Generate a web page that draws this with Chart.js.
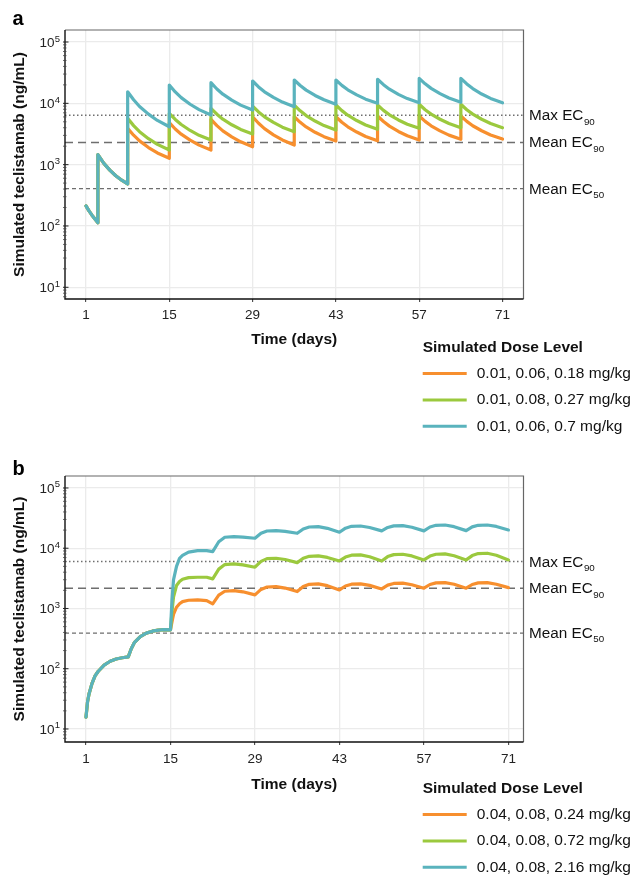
<!DOCTYPE html>
<html>
<head>
<meta charset="utf-8">
<title>Simulated teclistamab exposure</title>
<script src="https://cdn.jsdelivr.net/npm/chart.js@4.4.1/dist/chart.umd.min.js"></script>
<style>
  html, body { margin: 0; padding: 0; background: #fff; }
  body { width: 633px; height: 877px; position: relative; overflow: hidden; }
  canvas { position: absolute; left: 0; }
</style>
</head>
<body>
<canvas id="panelA" width="633" height="440" style="top:0"></canvas>
<canvas id="panelB" width="633" height="437" style="top:440px"></canvas>
<script>
// ---- data ----
const xTicks = [1, 15, 29, 43, 57, 71];
const yTicks = [10, 100, 1000, 10000, 100000];

const refNames = ['Max EC', 'Mean EC', 'Mean EC'];
const refSubs = ['90', '90', '50'];
const refA = [6400, 2300, 406];
const refB = [6000, 2170, 389];

const legendTitle = 'Simulated Dose Level';
const labelsA = ['0.01, 0.06, 0.18 mg/kg', '0.01, 0.08, 0.27 mg/kg', '0.01, 0.06, 0.7 mg/kg'];
const labelsB = ['0.04, 0.08, 0.24 mg/kg', '0.04, 0.08, 0.72 mg/kg', '0.04, 0.08, 2.16 mg/kg'];

// panel a: step-up doses on day 1 and 3, then weekly from day 8
const daysA = [1, 1.5, 2, 2.5, 3, 3, 4, 5, 6, 7, 8,
  8, 9, 10, 11.5, 13, 15,
  15, 16, 17, 18.5, 20, 22,
  22, 23, 24, 25.5, 27, 29,
  29, 30, 31, 32.5, 34, 36,
  36, 37, 38, 39.5, 41, 43,
  43, 44, 45, 46.5, 48, 50,
  50, 51, 52, 53.5, 55, 57,
  57, 58, 59, 60.5, 62, 64,
  64, 65, 66, 67.5, 69, 71];
const orangeA = [213, 176, 150, 130, 113, 1456, 1047, 813, 659, 558, 484,
  3910, 3020, 2440, 1900, 1550, 1270,
  4830, 3810, 3140, 2510, 2080, 1730,
  5480, 4330, 3560, 2840, 2360, 1960,
  6040, 4730, 3860, 3060, 2530, 2090,
  6040, 4900, 4120, 3370, 2860, 2430,
  6040, 4910, 4140, 3400, 2880, 2450,
  6210, 5050, 4250, 3480, 2960, 2520,
  6210, 5080, 4300, 3550, 3030, 2590,
  6210, 5080, 4310, 3570, 3050, 2610];
const greenA = [213, 176, 150, 130, 113, 1456, 1047, 813, 659, 558, 484,
  5690, 4330, 3450, 2650, 2140, 1730,
  6870, 5460, 4510, 3610, 3010, 2520,
  8280, 6640, 5520, 4470, 3750, 3160,
  9040, 7240, 6030, 4880, 4090, 3440,
  9380, 7550, 6320, 5140, 4340, 3660,
  9380, 7600, 6400, 5240, 4440, 3770,
  9380, 7670, 6490, 5360, 4570, 3910,
  9640, 7870, 6670, 5500, 4690, 4000,
  9640, 7870, 6670, 5500, 4690, 4000];
const blueA = [213, 176, 150, 130, 113, 1456, 1047, 813, 659, 558, 484,
  15450, 11430, 8890, 6670, 5260, 4150,
  19910, 15350, 12390, 9660, 7890, 6440,
  21680, 17140, 14090, 11250, 9350, 7780,
  23120, 18530, 15420, 12470, 10470, 8810,
  23990, 19500, 16410, 13430, 11430, 9700,
  23990, 19630, 16600, 13710, 11700, 10000,
  24660, 20140, 17020, 14000, 11940, 10190,
  25590, 20800, 17540, 14390, 12220, 10400,
  25590, 20700, 17380, 14190, 12020, 10190];

// panel b: doses on day 1, 8, then weekly from day 15
const daysB = [1, 1.25, 1.5, 2, 2.5, 3, 4, 5, 6, 7, 8, 8.5, 9, 10, 11, 12, 13, 14, 15,
  15.25, 15.5, 16, 16.5, 17, 18, 19.5, 21, 22,
  23, 24, 25.5, 27, 29,
  30, 31, 32.5, 34, 36,
  37, 38, 39.5, 41, 43,
  44, 45, 46.5, 48, 50,
  51, 52, 53.5, 55, 57,
  58, 59, 60.5, 62, 64,
  65, 66, 67.5, 69, 71];
const orangeB = [15.7, 28, 38, 57, 76, 90, 115, 133, 145, 152, 157, 215, 270, 342, 390, 420, 438, 445, 443,
  600, 800, 1050, 1200, 1300, 1370, 1390, 1350, 1190,
  1660, 1930, 1980, 1890, 1680,
  2070, 2270, 2310, 2180, 1910,
  2310, 2520, 2560, 2390, 2030,
  2360, 2530, 2560, 2420, 2110,
  2440, 2600, 2630, 2480, 2170,
  2500, 2660, 2690, 2520, 2170,
  2500, 2660, 2690, 2520, 2220];
const greenB = [15.7, 28, 38, 57, 76, 90, 115, 133, 145, 152, 157, 215, 270, 342, 390, 420, 438, 445, 443,
  880, 1550, 2400, 2800, 3050, 3250, 3300, 3300, 3100,
  4500, 5350, 5500, 5290, 4840,
  6050, 6710, 6820, 6490, 5770,
  6810, 7350, 7450, 7030, 6150,
  7140, 7660, 7740, 7230, 6150,
  7260, 7830, 7950, 7450, 6400,
  7410, 7940, 8040, 7500, 6400,
  7550, 8150, 8260, 7660, 6400];
const blueB = [15.7, 28, 38, 57, 76, 90, 115, 133, 145, 152, 157, 215, 270, 342, 390, 420, 438, 445, 443,
  1390, 2980, 5000, 6800, 7600, 8600, 9100, 9100, 8800,
  12800, 15200, 15600, 15300, 14650,
  17700, 19300, 19600, 19000, 17700,
  20900, 22500, 22800, 21400, 18400,
  21500, 23100, 23400, 22100, 19400,
  22100, 23500, 23700, 22300, 19400,
  22500, 24000, 24300, 22800, 19600,
  22600, 24000, 24300, 23000, 20100];

// ---- styling ----
const FONT = '"Liberation Sans", Arial, Helvetica, sans-serif';
Chart.defaults.font.family = FONT;
const COLORS = ['#f78f2e', '#9bc93e', '#5ab3bd'];
const refDash = [[1.5, 2.5], [8, 5], [4, 3]];
const refWidth = [1.5, 1.6, 1.3];

function series(days, vals) {
  return days.map((d, i) => ({ x: d, y: vals[i] }));
}

function makeDatasets(labels, days, cols) {
  return cols.map((vals, i) => ({
    label: labels[i],
    data: series(days, vals),
    borderColor: COLORS[i],
    backgroundColor: COLORS[i],
    borderWidth: 3.2,
    pointRadius: 0,
    tension: 0,
    fill: false,
    borderJoinStyle: 'round',
    borderCapStyle: 'round',
    order: 2 - i   // highest dose drawn last
  }));
}

const panelDecor = {
  id: 'panelDecor',
  beforeDatasetsDraw(chart, args, opts) {
    const { ctx, chartArea: a } = chart;
    const ys = chart.scales.y;
    ctx.save();
    ctx.beginPath();
    ctx.rect(a.left, a.top, a.right - a.left, a.bottom - a.top);
    ctx.clip();
    opts.refs.forEach((v, i) => {
      const py = ys.getPixelForValue(v);
      ctx.strokeStyle = '#6e6e6e';
      ctx.lineWidth = refWidth[i];
      ctx.setLineDash(refDash[i]);
      ctx.beginPath();
      ctx.moveTo(a.left, py);
      ctx.lineTo(a.right, py);
      ctx.stroke();
    });
    ctx.restore();
  },
  afterDraw(chart, args, opts) {
    const { ctx, chartArea: a } = chart;
    const ys = chart.scales.y;
    ctx.save();
    ctx.setLineDash([]);

    // panel frame: dark left/bottom axes, lighter top/right
    ctx.strokeStyle = '#666';
    ctx.lineWidth = 1.2;
    ctx.beginPath();
    ctx.moveTo(a.left, a.top); ctx.lineTo(a.right, a.top); ctx.lineTo(a.right, a.bottom);
    ctx.stroke();
    ctx.strokeStyle = '#111';
    ctx.lineWidth = 1.4;
    ctx.beginPath();
    ctx.moveTo(a.left, a.top); ctx.lineTo(a.left, a.bottom); ctx.lineTo(a.right, a.bottom);
    ctx.stroke();

    // log ticks on the y axis
    const lo = Math.floor(Math.log10(ys.min)), hi = Math.ceil(Math.log10(ys.max));
    for (let k = lo; k <= hi; k++) {
      for (let m = 1; m <= 9; m++) {
        const v = m * Math.pow(10, k);
        if (v < ys.min || v > ys.max) continue;
        const py = ys.getPixelForValue(v);
        ctx.strokeStyle = m === 1 ? '#222' : '#444';
        ctx.lineWidth = m === 1 ? 1 : 0.8;
        ctx.beginPath();
        ctx.moveTo(a.left - 2, py);
        ctx.lineTo(a.left + (m === 1 ? 3.5 : 1.5), py);
        ctx.stroke();
      }
    }

    // y tick labels as 10 with a raised exponent
    ctx.fillStyle = '#222';
    ctx.textBaseline = 'alphabetic';
    yTicks.forEach(v => {
      const py = ys.getPixelForValue(v);
      const exp = String(Math.round(Math.log10(v)));
      const right = a.left - 5;
      ctx.font = '9.5px ' + FONT;
      const ew = ctx.measureText(exp).width;
      ctx.textAlign = 'left';
      ctx.fillText(exp, right - ew, py - 0.5);
      ctx.font = '13.5px ' + FONT;
      ctx.textAlign = 'right';
      ctx.fillText('10', right - ew - 0.3, py + 5);
    });

    // threshold labels with subscripts
    ctx.fillStyle = '#111';
    opts.refs.forEach((v, i) => {
      const py = ys.getPixelForValue(v);
      const x0 = a.right + 5.5;
      ctx.font = '15.3px ' + FONT;
      ctx.textAlign = 'left';
      ctx.fillText(refNames[i], x0, py + 5);
      const w = ctx.measureText(refNames[i]).width;
      ctx.font = '9.8px ' + FONT;
      ctx.fillText(refSubs[i], x0 + w + 0.5, py + 9.3);
    });

    // panel letter
    ctx.font = 'bold 20px ' + FONT;
    ctx.fillStyle = '#000';
    ctx.fillText(opts.letter, 12.5, opts.letterY);

    // legend below the panel, right side
    const lx = 422.7;
    ctx.textBaseline = 'middle';
    ctx.font = 'bold 15.5px ' + FONT;
    ctx.fillStyle = '#111';
    ctx.fillText(legendTitle, lx, opts.legendTop);
    chart.data.datasets.forEach((ds, i) => {
      const ly = opts.legendTop + 25.5 + i * 26.4;
      ctx.strokeStyle = ds.borderColor;
      ctx.lineWidth = 3;
      ctx.beginPath();
      ctx.moveTo(lx, ly);
      ctx.lineTo(lx + 44, ly);
      ctx.stroke();
      ctx.font = '15.5px ' + FONT;
      ctx.fillStyle = '#111';
      ctx.fillText(ds.label, lx + 54, ly);
    });
    ctx.restore();
  }
};

function makeChart(id, cfg) {
  return new Chart(document.getElementById(id), {
    type: 'line',
    data: { datasets: makeDatasets(cfg.labels, cfg.days, cfg.cols) },
    plugins: [panelDecor],
    options: {
      responsive: false,
      devicePixelRatio: 1,
      animation: false,
      events: [],
      layout: { padding: { left: 0, top: cfg.top, right: 109.5, bottom: cfg.bottomPad } },
      plugins: {
        legend: { display: false },
        tooltip: { enabled: false },
        panelDecor: { refs: cfg.refs, letter: cfg.letter, letterY: cfg.letterY, legendTop: cfg.legendTop }
      },
      scales: {
        x: {
          type: 'linear',
          min: cfg.xMin,
          max: cfg.xMax,
          afterBuildTicks: s => { s.ticks = xTicks.map(v => ({ value: v })); },
          afterFit: s => { s.height = cfg.xHeight; },
          border: { display: false },
          grid: { color: '#ebebeb', lineWidth: 1.3, drawTicks: true, tickLength: 3, tickColor: '#333', tickWidth: 1 },
          ticks: { font: { size: 13.5 }, color: '#222', padding: cfg.xPad, maxRotation: 0, autoSkip: false },
          title: { display: true, text: 'Time (days)', color: '#111', font: { size: 15.5, weight: 'bold' }, padding: { top: 0, bottom: 0 } }
        },
        y: {
          type: 'logarithmic',
          min: cfg.yMin,
          max: cfg.yMax,
          afterBuildTicks: s => { s.ticks = yTicks.map(v => ({ value: v })); },
          afterFit: s => { s.width = 65; },
          border: { display: false },
          grid: { color: '#ebebeb', lineWidth: 1.3, drawTicks: false },
          ticks: { display: false },
          title: { display: true, text: 'Simulated teclistamab (ng/mL)', color: '#111', font: { size: 15.5, weight: 'bold' }, padding: { top: 10.7, bottom: 0 } }
        }
      }
    }
  });
}

makeChart('panelA', {
  labels: labelsA, days: daysA, cols: [orangeA, greenA, blueA], refs: refA,
  letter: 'a', letterY: 25, legendTop: 348,
  top: 30, bottomPad: 91, xHeight: 50, xPad: 5,
  xMin: -2.53, xMax: 74.53, yMin: 6.44, yMax: 157000
});

makeChart('panelB', {
  labels: labelsB, days: daysB, cols: [orangeB, greenB, blueB], refs: refB,
  letter: 'b', letterY: 35, legendTop: 349,
  top: 36, bottomPad: 83, xHeight: 52, xPad: 6,
  xMin: -2.48, xMax: 73.5, yMin: 6.08, yMax: 158000
});
</script>
</body>
</html>
